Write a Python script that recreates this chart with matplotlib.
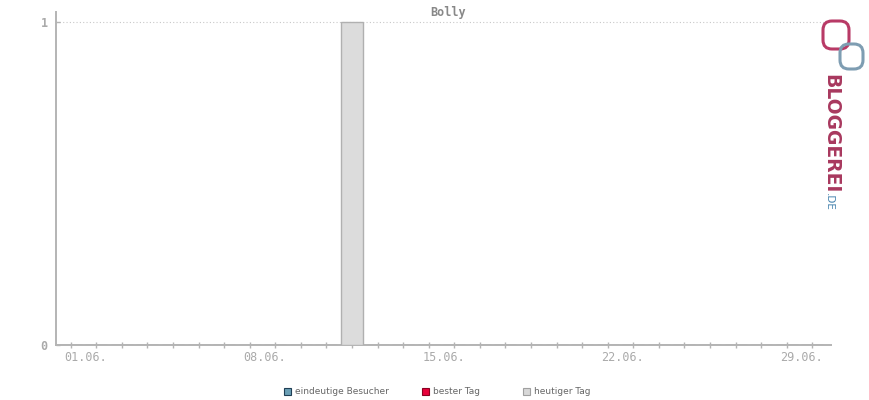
import matplotlib
matplotlib.use("Agg")
import matplotlib.pyplot as plt
import matplotlib.transforms as mtransforms
from matplotlib.patches import FancyBboxPatch

# ---- data ----
title = "Bolly"
days = list(range(1, 31))
visitors = [0] * 30
visitors[11] = 1  # 12.06.
tick_days = [1, 8, 15, 22, 29]
tick_labels = ["01.06.", "08.06.", "15.06.", "22.06.", "29.06."]
y_ticks = [0, 1]
legend_labels = ["eindeutige Besucher", "bester Tag", "heutiger Tag"]
legend_colors = ["#6a9fb5", "#e8003a", "#d8d8d8"]
legend_edges = ["#1f3f55", "#8a0020", "#a0a0a0"]

axis_col = "#b4b4b4"
text_col = "#aaaaaa"

fig = plt.figure(figsize=(8.7, 4.0), dpi=100)
ax = fig.add_axes([56 / 870, 55 / 400, (830.7 - 56) / 870, (345 - 12) / 400])

x = [d - 1 for d in days]
ax.bar(x, visitors, width=0.86, color="#dcdcdc", edgecolor="#b0b0b0",
       linewidth=1.0, zorder=3)

ax.set_xlim(-0.575, 29.72)
ax.set_ylim(0, 1.031)

for s in ["top", "right"]:
    ax.spines[s].set_visible(False)
for s in ["left", "bottom"]:
    ax.spines[s].set_color(axis_col)
    ax.spines[s].set_linewidth(1.4)

ax.axhline(1, color="#c8c8c8", linestyle=(0, (1, 2)), linewidth=0.8, zorder=1,
           xmax=0.995)

ax.set_xticks([d - 1 for d in tick_days])
ax.set_xticklabels(tick_labels, family="DejaVu Sans Mono", fontsize=8.5,
                   color=text_col)
ax.set_xticks(x, minor=True)
ax.tick_params(axis="x", which="both", direction="inout", length=5,
               color=axis_col, width=1, pad=2)
offset = mtransforms.ScaledTranslation(15 / 100, 0, fig.dpi_scale_trans)
for lbl in ax.get_xticklabels():
    lbl.set_transform(lbl.get_transform() + offset)

ax.set_yticks(y_ticks)
ax.set_yticklabels([str(v) for v in y_ticks], family="DejaVu Sans Mono",
                   fontsize=8.5, color=text_col, fontweight="bold")
ax.tick_params(axis="y", direction="in", length=3, color=axis_col, width=1,
               pad=6)

fig.text(448 / 870, 1 - 12.5 / 400, title, ha="center", va="center",
         family="DejaVu Sans Mono", fontweight="bold", fontsize=8.5,
         color="#888888")

# legend
lx = [288, 426, 527]
for px, lab, fc, ec in zip(lx, legend_labels, legend_colors, legend_edges):
    fig.patches.append(plt.Rectangle(((px - 4) / 870, 1 - 395 / 400),
                                     7 / 870, 7 / 400, transform=fig.transFigure,
                                     facecolor=fc, edgecolor=ec, linewidth=0.8))
    fig.text((px + 7) / 870, 1 - 391.5 / 400, lab, ha="left", va="center",
             fontsize=6.5, color="#666666", family="DejaVu Sans")

# logo (pixel-space axes)
lax = fig.add_axes([815 / 870, 1 - 75 / 400, 55 / 870, 60 / 400])
lax.set_xlim(815, 870)
lax.set_ylim(75, 15)
lax.axis("off")
lax.add_patch(FancyBboxPatch((823, 21), 26, 28,
                             boxstyle="round,pad=0,rounding_size=9",
                             facecolor="none", edgecolor="#b83a66",
                             linewidth=2.2))
lax.add_patch(FancyBboxPatch((840, 44), 23, 25,
                             boxstyle="round,pad=0,rounding_size=9",
                             facecolor="none", edgecolor="#7e9db2",
                             linewidth=2.2))
fig.text(831 / 870, 1 - 74 / 400, "BLOGGEREI", rotation=270, ha="center",
         va="top", fontsize=13.5, fontweight="bold", color="#a8385e",
         family="DejaVu Sans")
fig.text(829 / 870, 1 - 193 / 400, ".DE", rotation=270, ha="center",
         va="top", fontsize=7.5, color="#4a86b0", family="DejaVu Sans")

fig.savefig("out.png", dpi=100, facecolor="white")
